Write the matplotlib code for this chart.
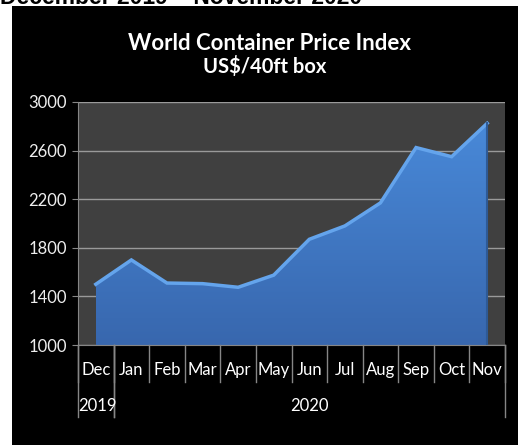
import numpy as np
import matplotlib
matplotlib.use('Agg')
import matplotlib.pyplot as plt
from matplotlib.patches import Rectangle, Polygon
import matplotlib.transforms as mtransforms
from matplotlib.colors import LinearSegmentedColormap

plt.rcParams['font.family'] = ['Lato', 'DejaVu Sans']

months = ['Dec', 'Jan', 'Feb', 'Mar', 'Apr', 'May', 'Jun', 'Jul', 'Aug', 'Sep', 'Oct', 'Nov']
years = ['2019', '2020']
year_spans = [(0, 0), (1, 11)]
price = [1500, 1700, 1510, 1505, 1475, 1575, 1870, 1980, 2170, 2625, 2550, 2825]
yticks = [1000, 1400, 1800, 2200, 2600, 3000]

W, H = 518, 445
fig = plt.figure(figsize=(W / 100, H / 100), dpi=100, facecolor='white')

# black chart panel under the white strip
fig.patches.append(Rectangle((12 / W, 0), 1 - 12 / W, 1 - 6 / H, transform=fig.transFigure,
                             facecolor='black', edgecolor='none', zorder=0))
fig.text(0.0, 1 - 3.5 / H, 'December 2019 \u2013 November 2020', family='Liberation Sans',
         fontsize=16.5, fontweight='bold', color='black', va='baseline', ha='left')

fig.text(270 / W, 1 - 44 / H, 'World Container Price Index', fontsize=16, fontweight='bold',
         color='white', ha='center', va='center')
fig.text(265 / W, 1 - 67 / H, 'US$/40ft box', fontsize=14.5, fontweight='bold',
         color='white', ha='center', va='center')

ax = fig.add_axes([78 / W, 1 - 345 / H, (505 - 78) / W, (345 - 102) / H])
ax.set_zorder(2)
ax.set_facecolor('#404040')
x = np.arange(len(months))
ax.set_xlim(-0.5, len(months) - 0.5)
ax.set_ylim(1000, 3000)
ax.set_yticks(yticks)
ax.yaxis.grid(True, color='#9a9a9a', lw=1)
ax.set_axisbelow(True)
for s in ['top', 'right']:
    ax.spines[s].set_visible(False)
for s in ['left', 'bottom']:
    ax.spines[s].set_color('#868686')
ax.tick_params(axis='y', colors='#868686', labelcolor='#eeeeee', labelsize=12, length=4, pad=4)
ax.set_xticks([])

# area with a vertical gradient and a light top edge
verts = [(x[0], 1000)] + list(zip(x, price)) + [(x[-1], 1000)]
poly = Polygon(verts, closed=True, facecolor='none', edgecolor='none')
ax.add_patch(poly)
cmap = LinearSegmentedColormap.from_list('blues', ['#3867ae', '#4a8cdc'])
grad = np.linspace(0, 1, 256).reshape(-1, 1)
img = ax.imshow(grad, extent=[x[0], x[-1], 1000, 3000], origin='lower', cmap=cmap,
                aspect='auto', zorder=2)
img.set_clip_path(poly)
ax.plot(x, price, color='#64a4ec', lw=2.5, zorder=3, solid_joinstyle='miter')
ax.plot([x[-1], x[-1]], [1000, price[-1]], color='#2e5a96', lw=1.5, zorder=3)

# category axis: month labels, separators, year groups
trans = mtransforms.blended_transform_factory(ax.transData, ax.transAxes)
ax_h = 345 - 102
for i in range(len(months) + 1):
    ax.plot([i - 0.5, i - 0.5], [0, -37 / ax_h], color='#868686', lw=1,
            transform=trans, clip_on=False)
for i, m in enumerate(months):
    ax.text(i, -25 / ax_h, m, color='white', fontsize=12, ha='center', va='center',
            transform=trans)
for lo, hi in year_spans:
    for edge in (lo - 0.5, hi + 0.5):
        ax.plot([edge, edge], [0, -72 / ax_h], color='#868686', lw=1,
                transform=trans, clip_on=False)
ax.text(-0.5, -61 / ax_h, years[0], color='white', fontsize=12, ha='left', va='center',
        transform=trans)
ax.text((year_spans[1][0] + year_spans[1][1]) / 2, -61 / ax_h, years[1], color='white',
        fontsize=12, ha='center', va='center', transform=trans)

fig.savefig('out.png', dpi=100, facecolor=fig.get_facecolor())
